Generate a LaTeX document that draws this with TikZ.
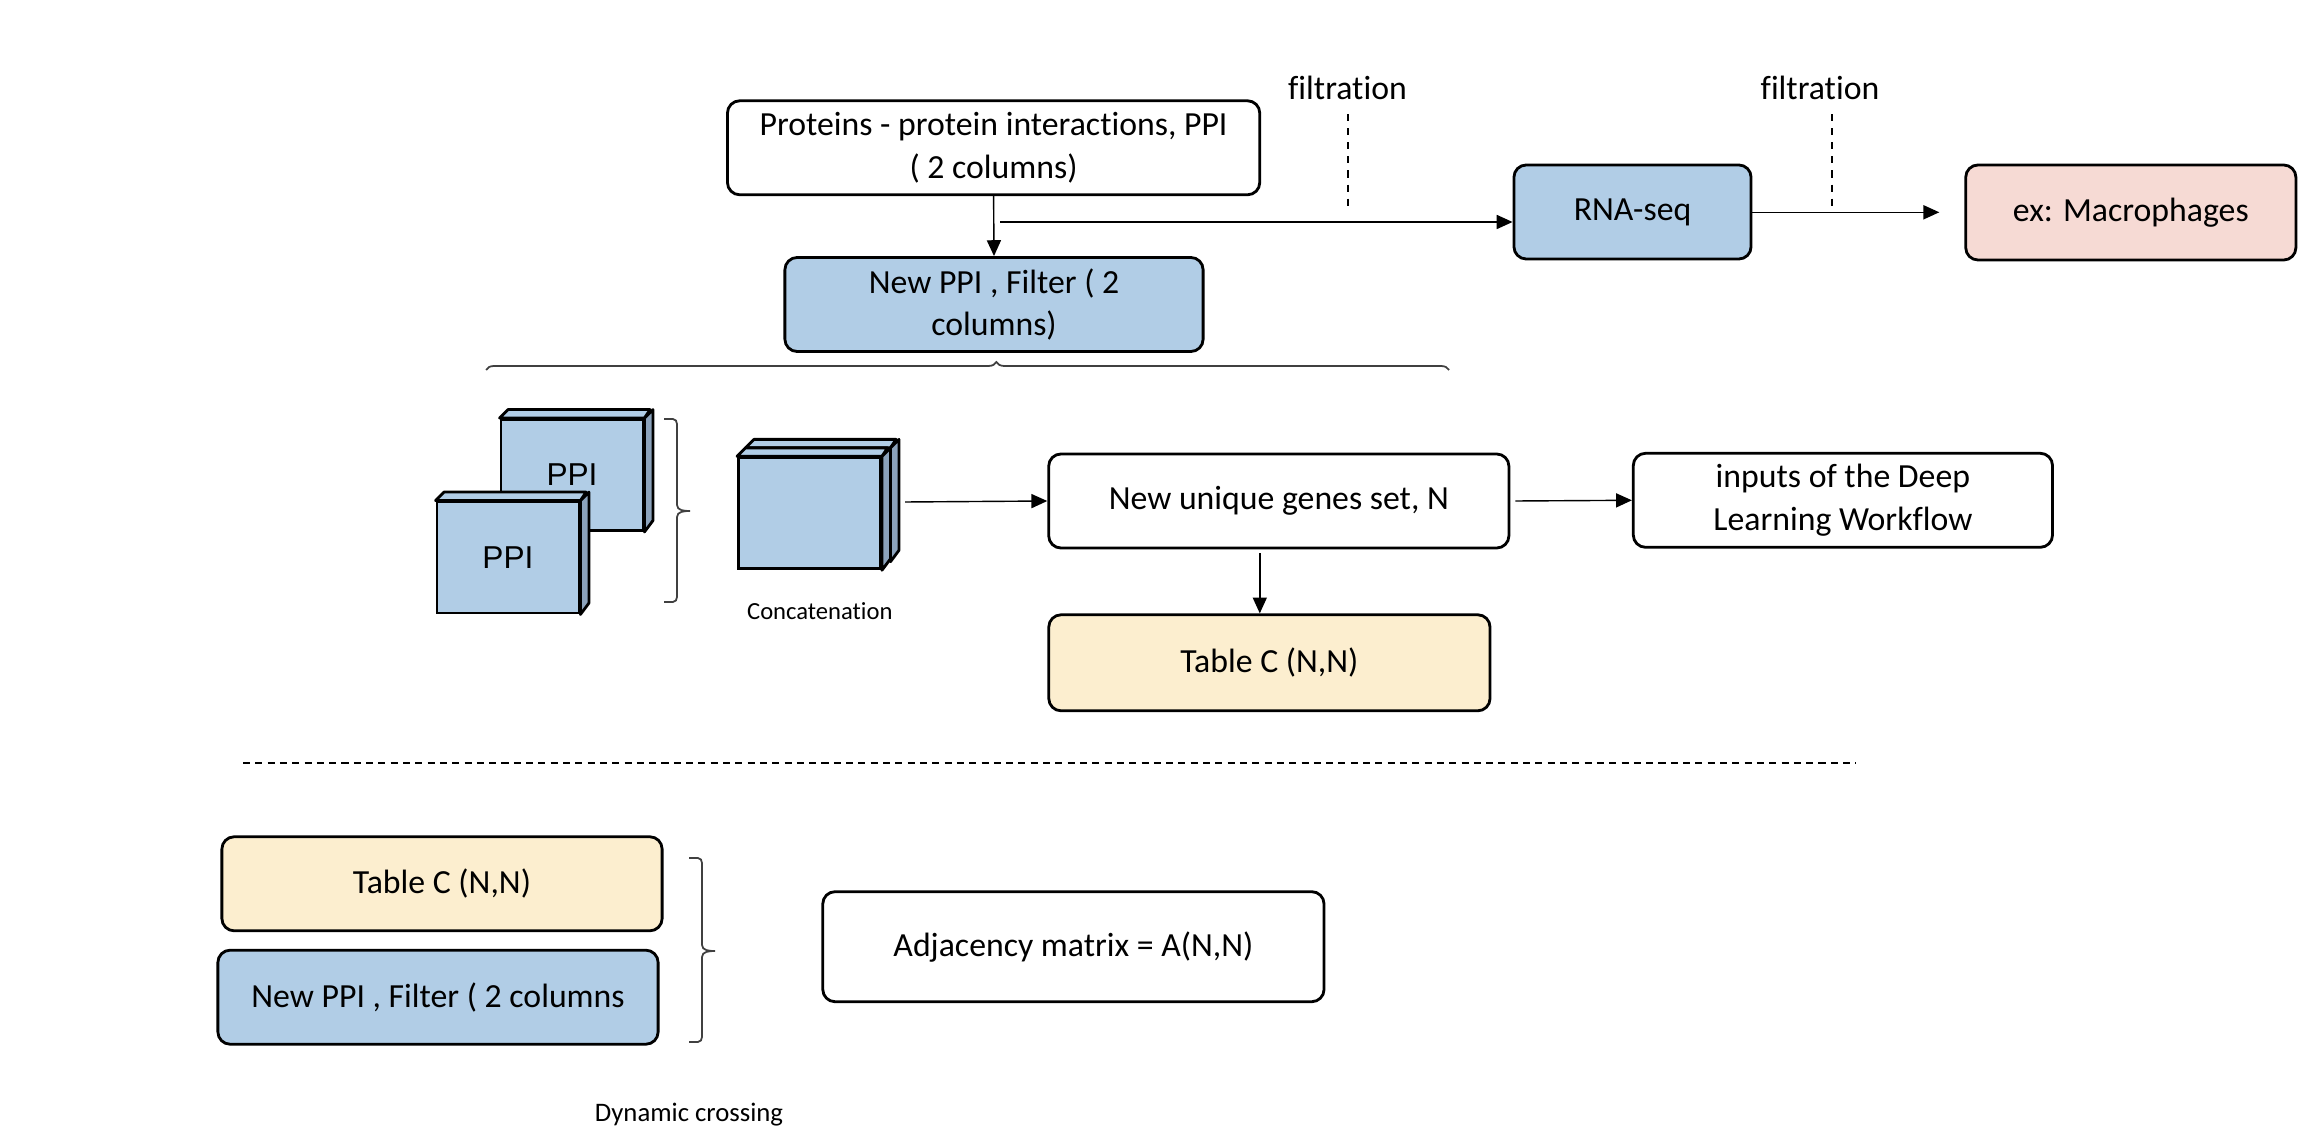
\documentclass[tikz,border=0pt]{standalone}
\usepackage{fontspec}
\setmainfont{Carlito}[Ligatures=NoCommon]
\newfontfamily\arialfont{Liberation Sans}
\usetikzlibrary{arrows.meta,decorations.pathreplacing}

\definecolor{ppiblue}{RGB}{177,205,230}
\definecolor{ppiside}{RGB}{140,163,188}
\definecolor{tableyellow}{RGB}{252,238,207}
\definecolor{cellpink}{RGB}{246,218,212}

\begin{document}
\begin{tikzpicture}[
    x=0.01cm, y=-0.01cm,
    box/.style={draw, rounded corners=3.5pt, line width=0.8pt, align=center,
      inner sep=0pt, font=\fontsize{9.6}{12.2}\selectfont},
    bluebox/.style={box, fill=ppiblue},
    yellowbox/.style={box, fill=tableyellow},
    pinkbox/.style={box, fill=cellpink},
    arr/.style={-{Triangle[length=4.5pt,width=4pt]}, line width=0.4pt},
    cutline/.style={dash pattern=on 2pt off 2pt, line width=0.4pt},
    filt/.style={inner sep=0pt, outer ysep=4pt, font=\fontsize{9.6}{12}\selectfont},
    small/.style={inner sep=0pt, font=\fontsize{7}{8}\selectfont},
    cubeface/.style={draw, fill=ppiblue, line width=0.8pt, minimum width=1.42cm,
      minimum height=1.11cm, inner sep=0pt, font=\arialfont\fontsize{9}{10}\selectfont},
    bracket/.style={line width=0.5pt, draw=black!75}
  ]

  \useasboundingbox (0,0) rectangle (2306,1128);

  % top row
  \node[box, minimum width=5.32cm, minimum height=0.94cm] (ppi) at (993.6,147.8)
    {Proteins - protein interactions, PPI\\( 2 columns)};
  \node[bluebox, minimum width=4.18cm, minimum height=0.94cm] (newppi) at (994,304.5)
    {New PPI , Filter ( 2\\columns)};
  \node[bluebox, minimum width=2.37cm, minimum height=0.94cm] (rnaseq) at (1632.5,212) {RNA-seq};
  \node[pinkbox, minimum width=3.30cm, minimum height=0.95cm] (macro) at (2130.8,212.5) {ex: Macrophages};

  \node[filt] (filt1) at (1347.5,88.3) {filtration};
  \node[filt] (filt2) at (1820,88.3) {filtration};
  \coordinate (split) at (1000,222);
  \coordinate (cut1) at (1348,212);
  \coordinate (cut2) at (1832,212.3);

  \draw[arr] (ppi.south) -- (newppi.north);
  \draw[arr] (split) -- (split -| rnaseq.west);
  \draw[arr] (rnaseq.east |- cut2) -- ([xshift=-0.25cm]macro.west |- cut2);
  \draw[cutline] (filt1.south -| cut1) -- (cut1);
  \draw[cutline] (filt2.south -| cut2) -- (cut2);

  \draw[bracket, decorate, decoration={brace, amplitude=0.08cm, aspect=0.53}] (486,370) -- (1449,370);

  % cubes
  \node[cubeface] (ppiback) at (572,475) {PPI};
  \filldraw[fill=ppiblue, line width=0.8pt, line join=round]
    (ppiback.north west) -- ++(8.5,-8.5) -- ++(142,0) -- (ppiback.north east) -- cycle;
  \filldraw[fill=ppiside, line width=0.8pt, line join=round]
    (ppiback.north east) -- ++(8.5,-8.5) -- ++(0,111) -- (ppiback.south east) -- cycle;

  \node[cubeface] (ppifront) at (508,557.5) {PPI};
  \filldraw[fill=ppiblue, line width=0.8pt, line join=round]
    (ppifront.north west) -- ++(8.5,-8.5) -- ++(142,0) -- (ppifront.north east) -- cycle;
  \filldraw[fill=ppiside, line width=0.8pt, line join=round]
    (ppifront.north east) -- ++(8.5,-8.5) -- ++(0,111) -- (ppifront.south east) -- cycle;

  \draw[bracket] (664,419) -- (673,419) to[out=0,in=90] (677,424) -- (677,505)
    to[out=-90,in=180] (690,511) to[out=180,in=90] (677,517) -- (677,597)
    to[out=-90,in=0] (673,602) -- (664,602);

  \node[cubeface] (concatback) at (818,504.8) {};
  \filldraw[fill=ppiblue, line width=0.8pt, line join=round]
    (concatback.north west) -- ++(8.5,-8.5) -- ++(142,0) -- (concatback.north east) -- cycle;
  \filldraw[fill=ppiside, line width=0.8pt, line join=round]
    (concatback.north east) -- ++(8.5,-8.5) -- ++(0,111) -- (concatback.south east) -- cycle;

  \node[cubeface] (concat) at (809.5,513.3) {};
  \filldraw[fill=ppiblue, line width=0.8pt, line join=round]
    (concat.north west) -- ++(8.5,-8.5) -- ++(142,0) -- (concat.north east) -- cycle;
  \filldraw[fill=ppiside, line width=0.8pt, line join=round]
    (concat.north east) -- ++(8.5,-8.5) -- ++(0,111) -- (concat.south east) -- cycle;

  \node[small] (concatlabel) at (819.8,611) {Concatenation};
  \coordinate (concatout) at (905,502);

  % middle row
  \node[box, minimum width=4.60cm, minimum height=0.94cm] (genes) at (1278.8,501) {New unique genes set, N};
  \node[box, minimum width=4.19cm, minimum height=0.94cm] (inputs) at (1842.9,500.3)
    {inputs of the Deep\\Learning Workflow};
  \node[yellowbox, minimum width=4.41cm, minimum height=0.96cm] (tablec) at (1269.4,662.8) {Table C (N,N)};

  \draw[arr] (concatout) -- (genes.west);
  \draw[arr] ([xshift=0.05cm]genes.east) -- (inputs.west);
  \draw[arr] ([xshift=-0.19cm,yshift=-0.04cm]genes.south) -- ([xshift=-0.19cm]genes.south |- tablec.north);

  \draw[dash pattern=on 2pt off 1.5pt, line width=0.4pt] (243,763) -- (1856,763);

  % bottom row
  \node[yellowbox, minimum width=4.40cm, minimum height=0.94cm] (tablec2) at (442,883.8) {Table C (N,N)};
  \node[bluebox, minimum width=4.40cm, minimum height=0.94cm] (newppi2) at (438,997.2) {New PPI , Filter ( 2 columns};
  \draw[bracket] (689,858) -- (698,858) to[out=0,in=90] (702,863) -- (702,945)
    to[out=-90,in=180] (715,951) to[out=180,in=90] (702,957) -- (702,1037)
    to[out=-90,in=0] (698,1042) -- (689,1042);
  \node[box, minimum width=5.01cm, minimum height=1.10cm] (adj) at (1073.4,946.7) {Adjacency matrix = A(N,N)};
  \node[small, font=\fontsize{7.6}{9}\selectfont] (dynlabel) at (689,1115) {Dynamic crossing};

\end{tikzpicture}
\end{document}
